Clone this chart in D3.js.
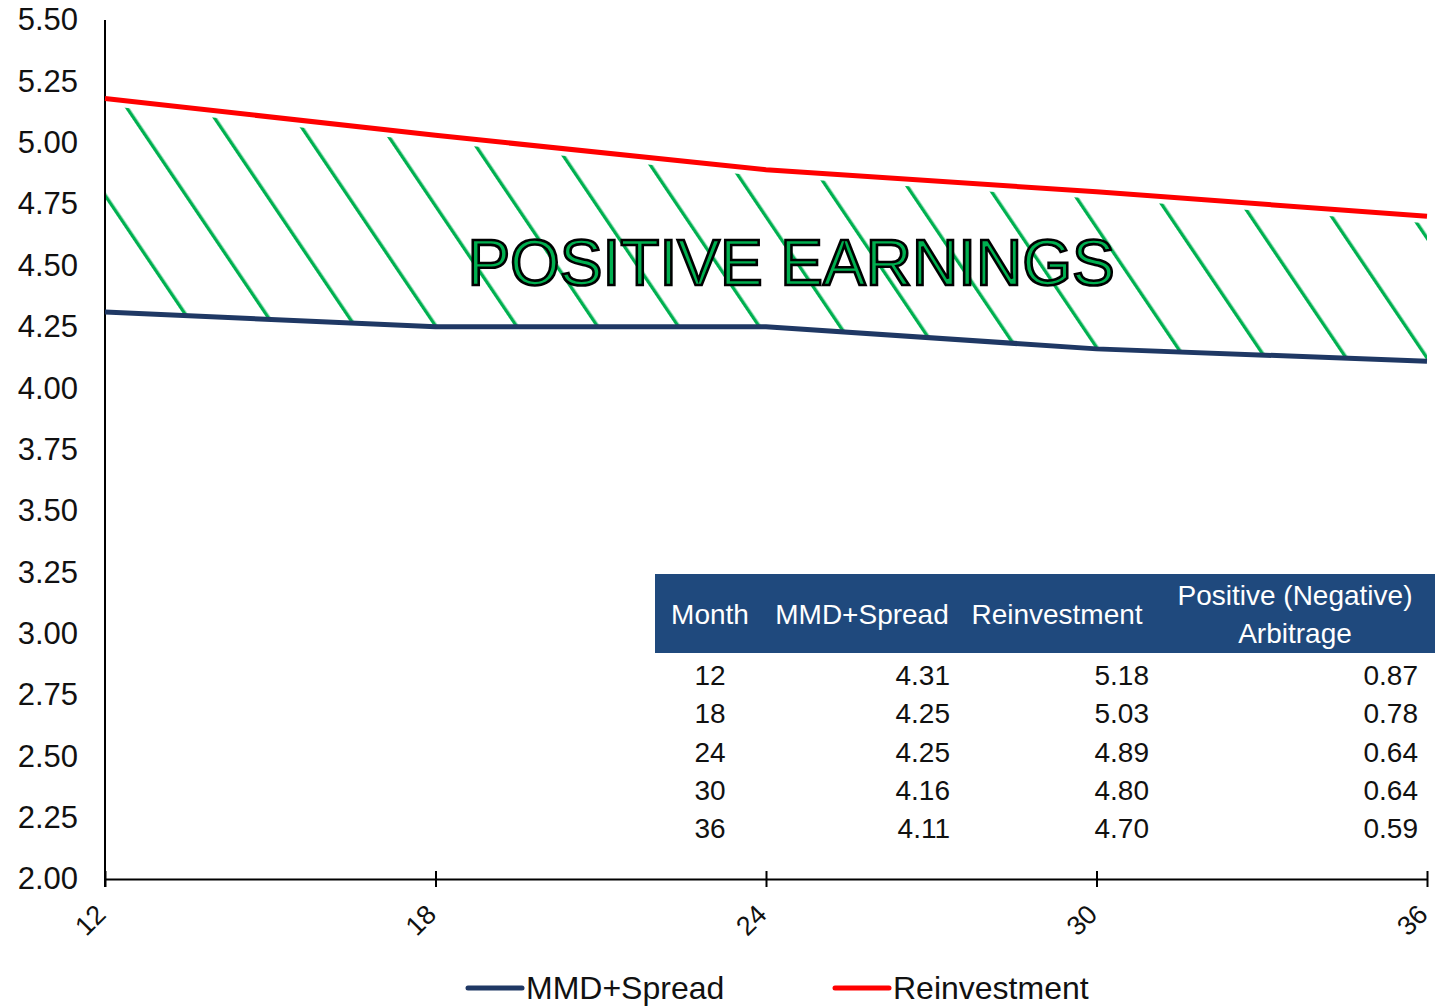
<!DOCTYPE html>
<html>
<head>
<meta charset="utf-8">
<script src="https://cdn.jsdelivr.net/npm/d3@7"></script>
<style>
  html, body { margin: 0; padding: 0; background: #fff; }
  svg { display: block; font-family: "Liberation Sans", Arial, sans-serif; }
</style>
</head>
<body>
<svg id="chart" width="1435" height="1006"></svg>
<script>
// Tenor in months and the two yield curves (%)
const months = [12, 18, 24, 30, 36];
const mmdSpread = [4.31, 4.25, 4.25, 4.16, 4.11];
const reinvestment = [5.18, 5.03, 4.89, 4.80, 4.70];
const arbitrage = [0.87, 0.78, 0.64, 0.64, 0.59];
const yTicks = [2.00, 2.25, 2.50, 2.75, 3.00, 3.25, 3.50, 3.75, 4.00, 4.25, 4.50, 4.75, 5.00, 5.25, 5.50];
const seriesNames = ["MMD+Spread", "Reinvestment"];
const tableHeaders = ["Month", "MMD+Spread", "Reinvestment", ["Positive (Negative)", "Arbitrage"]];

const NAVY = "#1f3864";
const RED = "#ff0000";
const GREEN = "#00b050";
const HEADER_BG = "#1f497d";

const svg = d3.select("#chart");
const plotLeft = 105, plotRight = 1427, plotTop = 20, plotBottom = 879;

const x = d3.scaleLinear().domain([12, 36]).range([plotLeft, plotRight]);
const y = d3.scaleLinear().domain([2, 5.5]).range([plotBottom, plotTop]);

const rows = months.map((m, i) => ({ m, lo: mmdSpread[i], hi: reinvestment[i], arb: arbitrage[i] }));

// Diagonal hatch for the positive-earnings band
const defs = svg.append("defs");
const pat = defs.append("pattern")
  .attr("id", "hatch")
  .attr("patternUnits", "userSpaceOnUse")
  .attr("width", 67).attr("height", 20)
  .attr("patternTransform", "translate(123,105) rotate(-34)");
pat.append("rect").attr("x", 0).attr("y", 0).attr("width", 3.4).attr("height", 20).attr("fill", GREEN);

const band = d3.area()
  .x(d => x(d.m))
  .y0(d => y(d.lo))
  .y1(d => y(d.hi) + 7);
svg.append("path").datum(rows).attr("d", band).attr("fill", "url(#hatch)");

// Y axis: line and labels only
const yAxis = svg.append("g").attr("transform", `translate(${plotLeft},0)`)
  .call(d3.axisLeft(y).tickValues(yTicks).tickFormat(d3.format(".2f")).tickSize(0).tickPadding(27));
yAxis.select(".domain").attr("stroke", "#000").attr("stroke-width", 2).attr("d", `M0,${plotTop}V${plotBottom + 8}`);
yAxis.selectAll("text").attr("font-size", 31).attr("fill", "#111").attr("font-family", "Liberation Sans, Arial, sans-serif");

// X axis with crossing ticks and rotated labels
const xAxis = svg.append("g").attr("transform", `translate(0,${plotBottom})`)
  .call(d3.axisBottom(x).tickValues(months).tickSize(0).tickFormat(d3.format("d")));
xAxis.select(".domain").attr("stroke", "#000").attr("stroke-width", 2);
xAxis.selectAll(".tick line").attr("y1", -8).attr("y2", 8).attr("stroke", "#000").attr("stroke-width", 2);
xAxis.selectAll(".tick text")
  .attr("font-size", 27).attr("fill", "#111").attr("font-family", "Liberation Sans, Arial, sans-serif")
  .attr("text-anchor", "end")
  .attr("dy", 0)
  .attr("y", 0)
  .attr("transform", "translate(2,37) rotate(-45)");

// Curves
const line = key => d3.line().x(d => x(d.m)).y(d => y(d[key]));
svg.append("path").datum(rows).attr("d", line("lo"))
  .attr("fill", "none").attr("stroke", NAVY).attr("stroke-width", 5);
svg.append("path").datum(rows).attr("d", line("hi"))
  .attr("fill", "none").attr("stroke", RED).attr("stroke-width", 5);

// Band label
svg.append("text")
  .attr("x", 791).attr("y", 285)
  .attr("text-anchor", "middle")
  .attr("font-size", 64)
  .attr("fill", GREEN).attr("stroke", "#000").attr("stroke-width", 2.6)
  .text("POSITIVE EARNINGS");

// Summary table
const tbl = svg.append("g");
tbl.append("rect").attr("x", 655).attr("y", 574).attr("width", 780).attr("height", 79).attr("fill", HEADER_BG);
const headX = [710, 862, 1057, 1295];
tableHeaders.forEach((h, i) => {
  const t = tbl.append("text").attr("x", headX[i]).attr("text-anchor", "middle")
    .attr("font-size", 28).attr("fill", "#fff");
  if (Array.isArray(h)) {
    t.attr("y", 605);
    h.forEach((s, j) => t.append("tspan").attr("x", headX[i]).attr("dy", j ? 38 : 0).text(s));
  } else {
    t.attr("y", 624).text(h);
  }
});
const rowY = d3.scalePoint().domain(months).range([685, 838]);
const fmt = d3.format(".2f");
const cols = [
  { x: 710, anchor: "middle", v: d => d.m },
  { x: 950, anchor: "end", v: d => fmt(d.lo) },
  { x: 1149, anchor: "end", v: d => fmt(d.hi) },
  { x: 1418, anchor: "end", v: d => fmt(d.arb) }
];
cols.forEach(c => {
  tbl.selectAll(null).data(rows).enter().append("text")
    .attr("x", c.x).attr("y", d => rowY(d.m))
    .attr("text-anchor", c.anchor).attr("font-size", 28).attr("fill", "#111")
    .text(c.v);
});

// Legend
const legX = [468, 835];
const legColors = [NAVY, RED];
seriesNames.forEach((n, i) => {
  const g = svg.append("g").attr("transform", `translate(${legX[i]},988)`);
  g.append("line").attr("x1", 0).attr("x2", 54).attr("y1", 0).attr("y2", 0)
    .attr("stroke", legColors[i]).attr("stroke-width", 5).attr("stroke-linecap", "round");
  g.append("text").attr("x", 58).attr("y", 11).attr("font-size", 32).attr("fill", "#111").text(n);
});
</script>
</body>
</html>
